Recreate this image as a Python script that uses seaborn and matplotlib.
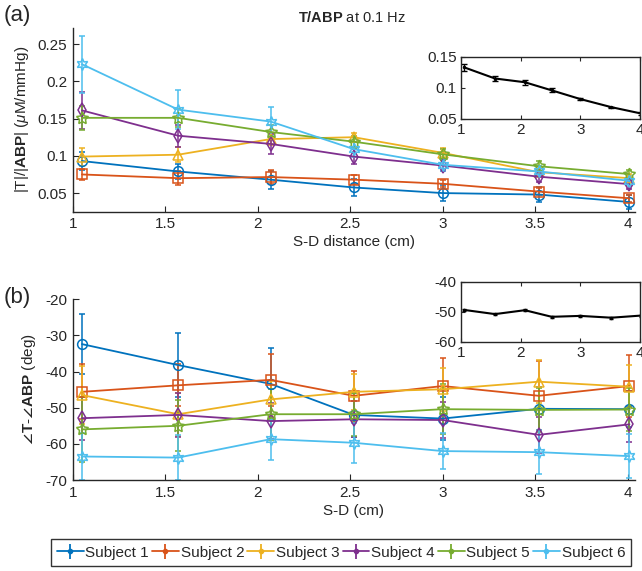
import numpy as np
import pandas as pd
import seaborn as sns
import matplotlib
matplotlib.use("Agg")
import matplotlib.pyplot as plt

sns.set_theme(style="white")
plt.rcParams["font.family"] = ["Liberation Sans", "DejaVu Sans"]
plt.rcParams["mathtext.fontset"] = "custom"
plt.rcParams["mathtext.rm"] = "Liberation Sans"
plt.rcParams["mathtext.bf"] = "Liberation Sans:bold"
plt.rcParams["mathtext.it"] = "Liberation Sans:italic"
plt.rcParams["xtick.direction"] = "in"
plt.rcParams["ytick.direction"] = "in"
plt.rcParams["axes.unicode_minus"] = False

# ---- data ----
sd_distance = [1.05, 1.57, 2.07, 2.52, 3.0, 3.52, 4.01]
subjects = ["Subject 1", "Subject 2", "Subject 3", "Subject 4", "Subject 5", "Subject 6"]

mag_s1 = [0.093, 0.079, 0.068, 0.0575, 0.050, 0.048, 0.038]
mag_s2 = [0.075, 0.070, 0.0715, 0.068, 0.0625, 0.052, 0.043]
mag_s3 = [0.099, 0.1015, 0.1225, 0.125, 0.104, 0.078, 0.070]
mag_s4 = [0.161, 0.127, 0.116, 0.099, 0.087, 0.072, 0.062]
mag_s5 = [0.151, 0.151, 0.132, 0.119, 0.102, 0.086, 0.0755]
mag_s6 = [0.223, 0.162, 0.146, 0.109, 0.088, 0.079, 0.0665]

mag_err_s1 = [0.012, 0.010, 0.012, 0.012, 0.011, 0.010, 0.009]
mag_err_s2 = [0.007, 0.009, 0.009, 0.006, 0.005, 0.005, 0.005]
mag_err_s3 = [0.012, 0.010, 0.008, 0.006, 0.006, 0.005, 0.005]
mag_err_s4 = [0.025, 0.015, 0.013, 0.010, 0.008, 0.007, 0.006]
mag_err_s5 = [0.016, 0.012, 0.010, 0.008, 0.007, 0.007, 0.005]
mag_err_s6 = [0.038, 0.026, 0.020, 0.010, 0.008, 0.007, 0.007]

phase_s1 = [-32.4, -38.2, -43.4, -52.0, -53.0, -50.3, -50.4]
phase_s2 = [-45.6, -43.8, -42.3, -46.7, -44.0, -46.7, -44.0]
phase_s3 = [-46.5, -51.8, -47.7, -45.6, -44.9, -42.8, -44.2]
phase_s4 = [-52.9, -52.0, -53.7, -53.2, -53.4, -57.5, -54.6]
phase_s5 = [-56.0, -55.0, -51.8, -51.8, -50.4, -50.6, -50.5]
phase_s6 = [-63.5, -63.8, -58.7, -59.7, -62.0, -62.3, -63.4]

phase_err_s1 = [8.2, 8.8, 10.0, 6.0, 6.0, 6.0, 5.0]
phase_err_s2 = [7.6, 5.8, 7.2, 6.9, 7.7, 9.5, 8.6]
phase_err_s3 = [8.0, 6.0, 5.0, 5.0, 6.0, 6.0, 6.0]
phase_err_s4 = [6.0, 6.0, 5.0, 5.0, 5.0, 5.0, 5.0]
phase_err_s5 = [9.0, 7.0, 7.0, 6.0, 7.0, 6.0, 6.0]
phase_err_s6 = [6.5, 6.3, 5.7, 5.5, 5.0, 6.0, 6.0]

mean_mag = [0.133, 0.115, 0.109, 0.096, 0.082, 0.069, 0.059]
mean_mag_err = [0.006, 0.004, 0.004, 0.003, 0.002, 0.001, 0.002]
mean_phase = [-49.4, -50.8, -49.5, -51.7, -51.4, -52.0, -51.3]
mean_phase_err = [0.3, 0.3, 0.3, 0.3, 0.3, 0.3, 0.3]

# ---- styling ----
colors = ["#0072BD", "#D95319", "#EDB120", "#7E2F8E", "#77AC30", "#4DBEEE"]
markers = ["o", "s", "^", "d", (5, 1, 0), (6, 1, 0)]
msizes = [7, 6.5, 7, 7, 9, 8.5]

mags = [mag_s1, mag_s2, mag_s3, mag_s4, mag_s5, mag_s6]
mag_errs = [mag_err_s1, mag_err_s2, mag_err_s3, mag_err_s4, mag_err_s5, mag_err_s6]
phases = [phase_s1, phase_s2, phase_s3, phase_s4, phase_s5, phase_s6]
phase_errs = [phase_err_s1, phase_err_s2, phase_err_s3, phase_err_s4, phase_err_s5, phase_err_s6]

rows = []
for name, m, me, p, pe in zip(subjects, mags, mag_errs, phases, phase_errs):
    for x, a, ae, b, be in zip(sd_distance, m, me, p, pe):
        rows.append(dict(subject=name, sd=x, mag=a, mag_err=ae, phase=b, phase_err=be))
df = pd.DataFrame(rows)

W, H = 642, 571
fig = plt.figure(figsize=(W / 100, H / 100), dpi=100)
FS = 11


def fr(x0, y0, x1, y1):
    return [x0 / W, 1 - y1 / H, (x1 - x0) / W, (y1 - y0) / H]


ax_a = fig.add_axes(fr(72.7, 27.7, 635, 211.7))
ax_b = fig.add_axes(fr(72.7, 299.3, 635, 480))
in_a = fig.add_axes(fr(461, 56.7, 640, 119))
in_b = fig.add_axes(fr(461, 281.7, 640, 341.7))


def draw_subjects(ax, col, ecol):
    for i, name in enumerate(subjects):
        d = df[df.subject == name]
        ax.errorbar(d["sd"], d[col], yerr=d[ecol], fmt="none", ecolor=colors[i],
                    elinewidth=1.1, capsize=2.5, capthick=1.1, zorder=2)
        sns.lineplot(data=d, x="sd", y=col, ax=ax, color=colors[i], marker=markers[i],
                     markersize=msizes[i], markerfacecolor="none",
                     markeredgecolor=colors[i], markeredgewidth=1.1,
                     linewidth=1.3, zorder=3, legend=False)


def style_main(ax):
    for s in ["top", "right"]:
        ax.spines[s].set_visible(False)
    for s in ["left", "bottom"]:
        ax.spines[s].set_color("#262626")
        ax.spines[s].set_linewidth(1.0)
    ax.tick_params(axis="both", labelsize=FS, colors="#262626", length=4,
                   width=0.8, direction="in", left=True, bottom=True, pad=4)
    ax.set_xticks([1, 1.5, 2, 2.5, 3, 3.5, 4])
    ax.set_xticklabels(["1", "1.5", "2", "2.5", "3", "3.5", "4"])
    ax.set_xlim(1, 4.04)


def style_inset(ax):
    for s in ax.spines.values():
        s.set_visible(True)
        s.set_color("#262626")
        s.set_linewidth(1.0)
    ax.set_facecolor("white")
    ax.tick_params(axis="both", labelsize=FS, colors="#262626", length=3,
                   width=0.8, direction="in", left=True, bottom=True, top=True,
                   pad=3)
    ax.set_xlim(1, 4)
    ax.set_xticks([1, 2, 3, 4])
    ax.set_xticklabels(["1", "2", "3", "4"])
    ax.set_xlabel("")
    ax.set_ylabel("")


# panel (a): magnitude
draw_subjects(ax_a, "mag", "mag_err")
style_main(ax_a)
ax_a.set_ylim(0.025, 0.272)
ax_a.set_yticks([0.05, 0.1, 0.15, 0.2, 0.25])
ax_a.set_yticklabels(["0.05", "0.1", "0.15", "0.2", "0.25"])
ax_a.set_xlabel("S-D distance (cm)", fontsize=FS, color="#262626", labelpad=3)
ax_a.set_ylabel(r"|T|/|$\mathbf{ABP}$| ($\mu$M/mmHg)", fontsize=FS,
                color="#262626", labelpad=5)
fig.text(352 / W, 1 - 18 / H, r"$\mathbf{T/ABP}$ at 0.1 Hz", ha="center",
         va="center", fontsize=10.5, color="#262626")

# panel (b): phase
draw_subjects(ax_b, "phase", "phase_err")
style_main(ax_b)
ax_b.set_ylim(-70, -20)
ax_b.set_yticks([-70, -60, -50, -40, -30, -20])
ax_b.set_xlabel("S-D (cm)", fontsize=FS, color="#262626", labelpad=3)
ax_b.set_ylabel(r"$\mathbf{\angle T\text{-}\angle ABP}$ (deg)", fontsize=FS,
                color="#262626", labelpad=5)

# insets: group mean
in_df = pd.DataFrame(dict(sd=sd_distance, mag=mean_mag, mag_err=mean_mag_err,
                          phase=mean_phase, phase_err=mean_phase_err))
in_a.errorbar(in_df["sd"], in_df["mag"], yerr=in_df["mag_err"], fmt="none",
              ecolor="black", elinewidth=1.0, capsize=2, capthick=1.0)
sns.lineplot(data=in_df, x="sd", y="mag", ax=in_a, color="black", linewidth=1.5,
             marker="o", markersize=2.5, markeredgewidth=0)
style_inset(in_a)
in_a.set_ylim(0.05, 0.15)
in_a.set_yticks([0.05, 0.1, 0.15])
in_a.set_yticklabels(["0.05", "0.1", "0.15"])

in_b.errorbar(in_df["sd"], in_df["phase"], yerr=in_df["phase_err"], fmt="none",
              ecolor="black", elinewidth=1.0, capsize=1.5, capthick=1.0)
sns.lineplot(data=in_df, x="sd", y="phase", ax=in_b, color="black", linewidth=1.5,
             marker="o", markersize=2.5, markeredgewidth=0)
style_inset(in_b)
in_b.set_ylim(-60, -40)
in_b.set_yticks([-60, -50, -40])

# panel letters
fig.text(4 / W, 1 - 16 / H, "(a)", fontsize=16, color="#262626", va="center")
fig.text(4 / W, 1 - 298 / H, "(b)", fontsize=16, color="#262626", va="center")

# legend with errorbar-style handles
handles = []
for i, name in enumerate(subjects):
    h = ax_b.errorbar([], [], yerr=[], color=colors[i], marker=".", markersize=6,
                      capsize=3, linewidth=1.3, label=name)
    handles.append(h)
leg = fig.legend(handles=handles, labels=subjects, loc="center",
                 bbox_to_anchor=(341 / W, 1 - 552.5 / H), ncol=6, fontsize=11,
                 frameon=True, fancybox=False, handlelength=1.75,
                 handletextpad=0.12, columnspacing=0.2, borderpad=0.4,
                 borderaxespad=0)
leg.get_frame().set_edgecolor("black")
leg.get_frame().set_linewidth(1.0)

fig.savefig("out.png", dpi=100)
